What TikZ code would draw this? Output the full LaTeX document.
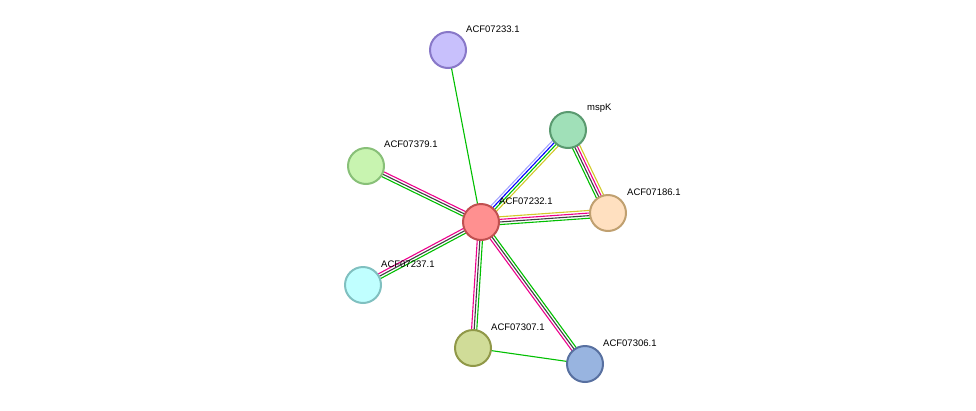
\documentclass[tikz,border=0pt]{standalone}
\usepackage{fontspec}
\setmainfont{Liberation Sans}
\usetikzlibrary{calc}
\tikzset{
 prot/.style={circle,minimum size=36pt,inner sep=0pt,line width=2pt},
 lab/.style={font=\fontsize{9.5}{11}\selectfont,anchor=south west,inner sep=1pt},
}
\newcommand\edgeline[4]{% a b offset color
 \draw[#4,line width=1.1pt] ($(#1)!1.3*#3!-90:(#2)$) -- ($(#2)!1.3*#3!90:(#1)$);}
\begin{document}
\begin{tikzpicture}[x=1pt,y=-1pt]
\useasboundingbox (0,0) rectangle (976,410);
\coordinate (c233) at (448,50);
\coordinate (cmsp) at (568,130);
\coordinate (c379) at (366,166);
\coordinate (c232) at (481,222);
\coordinate (c186) at (608,213);
\coordinate (c237) at (363,285);
\coordinate (c307) at (473,348);
\coordinate (c306) at (585,364);
% edges
\edgeline{c233}{c232}{0pt}{green!75!black}
\edgeline{cmsp}{c232}{3pt}{blue!35!white}
\edgeline{cmsp}{c232}{1pt}{blue}
\edgeline{cmsp}{c232}{-1pt}{green!75!black}
\edgeline{cmsp}{c232}{-3pt}{yellow!80!black}
\edgeline{cmsp}{c186}{3pt}{green!75!black}
\edgeline{cmsp}{c186}{1pt}{black!75}
\edgeline{cmsp}{c186}{-1pt}{magenta}
\edgeline{cmsp}{c186}{-3pt}{yellow!80!black}
\edgeline{c232}{c186}{-3pt}{yellow!80!black}
\edgeline{c232}{c186}{-1pt}{magenta}
\edgeline{c232}{c186}{1pt}{black!75}
\edgeline{c232}{c186}{3pt}{green!75!black}
\foreach \t in {c379,c237,c307,c306}{
 \edgeline{\t}{c232}{-2pt}{magenta}
 \edgeline{\t}{c232}{0pt}{black!75}
 \edgeline{\t}{c232}{2pt}{green!75!black}
}
\edgeline{c307}{c306}{0pt}{green!75!black}
% nodes
\node[prot,fill={rgb,255:red,200;green,192;blue,252},draw={rgb,255:red,136;green,120;blue,200}] (n233) at (c233) {};
\node[prot,fill={rgb,255:red,160;green,224;blue,184},draw={rgb,255:red,90;green,154;blue,112}] (nmsp) at (cmsp) {};
\node[prot,fill={rgb,255:red,200;green,244;blue,176},draw={rgb,255:red,136;green,192;blue,120}] (n379) at (c379) {};
\node[prot,fill={rgb,255:red,255;green,144;blue,144},draw={rgb,255:red,192;green,80;blue,80}] (n232) at (c232) {};
\node[prot,fill={rgb,255:red,255;green,224;blue,192},draw={rgb,255:red,192;green,160;blue,112}] (n186) at (c186) {};
\node[prot,fill={rgb,255:red,192;green,255;blue,255},draw={rgb,255:red,128;green,192;blue,192}] (n237) at (c237) {};
\node[prot,fill={rgb,255:red,208;green,220;blue,152},draw={rgb,255:red,144;green,152;blue,72}] (n307) at (c307) {};
\node[prot,fill={rgb,255:red,152;green,180;blue,224},draw={rgb,255:red,88;green,112;blue,160}] (n306) at (c306) {};
% labels
\node[lab] at (465,34) {ACF07233.1};
\node[lab] at (586,114) {mspK};
\node[lab] at (383,149) {ACF07379.1};
\node[lab] at (498,206) {ACF07232.1};
\node[lab] at (626,197) {ACF07186.1};
\node[lab] at (380,269) {ACF07237.1};
\node[lab] at (490,332) {ACF07307.1};
\node[lab] at (602,348) {ACF07306.1};
\end{tikzpicture}
\end{document}
